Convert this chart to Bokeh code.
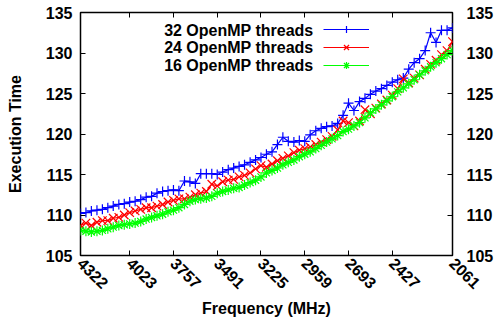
import math
from bokeh.plotting import figure
from bokeh.models import Range1d, LinearAxis, FixedTicker, Legend, LegendItem, Label
from bokeh.embed import file_html
from bokeh.resources import INLINE

# Frequencies (MHz), decreasing
freq = [4322, 4289, 4256, 4222, 4189, 4156, 4123, 4089, 4056, 4023,
        3990, 3956, 3923, 3890, 3857, 3823, 3790, 3757,
        3724, 3690, 3657, 3624, 3591, 3557, 3524, 3491,
        3458, 3424, 3391, 3358, 3325, 3291, 3258, 3225,
        3192, 3158, 3125, 3092, 3059, 3025, 2992, 2959,
        2926, 2892, 2859, 2826, 2793, 2759, 2726, 2693,
        2660, 2626, 2593, 2560, 2527, 2493, 2460, 2427,
        2394, 2360, 2327, 2294, 2261, 2227, 2194, 2161, 2128, 2094, 2061]

t32 = [110.2, 110.3, 110.5, 110.6, 110.7, 110.9, 111.1, 111.3, 111.4, 111.6,
       111.7, 111.9, 112.2, 112.3, 112.7, 112.9, 113.0, 113.1,
       113.0, 114.2, 114.1, 113.9, 115.1, 115.1, 115.1, 115.0,
       115.3, 115.6, 115.8, 116.0, 116.2, 116.5, 116.8, 117.1,
       117.5, 117.8, 118.7, 119.6, 119.1, 119.0, 119.2, 119.1,
       119.9, 120.4, 120.7, 120.9, 121.0, 121.3, 122.3, 123.8,
       122.9, 124.0, 124.4, 124.9, 125.3, 125.6, 126.0, 126.4,
       126.7, 126.9, 128.0, 128.8, 129.3, 130.3, 132.5, 131.3, 132.8, 132.8, 133.1]

t24 = [108.7, 109.0, 108.7, 109.1, 109.3, 109.3, 109.6, 109.7, 110.0, 110.3,
       110.5, 110.7, 110.9, 110.9, 111.1, 111.3, 111.6, 111.8,
       112.0, 112.0, 112.2, 112.5, 112.7, 112.9, 113.8, 113.6,
       114.1, 114.3, 114.4, 114.7, 114.9, 115.2, 115.7, 116.1,
       115.9, 116.3, 116.7, 117.0, 117.3, 117.7, 118.0, 118.2,
       118.4, 118.7, 119.0, 119.3, 119.7, 120.5, 121.6, 121.4,
       121.0, 121.6, 123.0, 122.5, 123.2, 123.7, 124.2, 124.8,
       125.6, 126.8, 126.3, 126.9, 127.3, 128.0, 128.6, 129.1, 129.8, 130.3, 131.4]

t16 = [108.1, 108.0, 107.9, 108.0, 108.1, 108.3, 108.5, 108.7, 108.8, 108.9,
       109.0, 109.2, 109.5, 109.7, 109.9, 110.1, 110.4, 110.6,
       110.9, 111.3, 111.7, 111.9, 112.0, 112.1, 112.3, 112.7,
       112.9, 113.1, 113.3, 113.4, 113.7, 114.0, 114.3, 114.7,
       115.2, 115.5, 115.8, 116.2, 116.5, 116.8, 117.2, 117.5,
       117.8, 118.2, 118.6, 119.0, 119.4, 119.8, 120.3, 120.6,
       121.0, 121.4, 122.0, 122.6, 123.1, 123.6, 124.1, 124.6,
       125.2, 125.7, 126.2, 126.7, 127.3, 127.8, 128.3, 128.8, 129.3, 129.8, 130.3]

x_ticks = [4322, 4023, 3757, 3491, 3225, 2959, 2693, 2427, 2061]
y_ticks = [105, 110, 115, 120, 125, 130, 135]
series_labels = ["32 OpenMP threads", "24 OpenMP threads", "16 OpenMP threads"]
colors = ["#0000ff", "#ff0000", "#00ff00"]
markers = ["cross", "x", "asterisk"]
msizes = [10, 12, 10]

FONT = "Liberation Sans"

p = figure(width=496, height=322, output_backend="svg", toolbar_location=None,
           x_range=Range1d(4322, 2061), y_range=Range1d(105, 135),
           min_border_left=80, min_border_right=42, min_border_top=12,
           min_border_bottom=67)

p.xgrid.visible = False
p.ygrid.visible = False
p.outline_line_color = "black"
p.outline_line_width = 1.5
p.outline_line_alpha = 1.0
p.background_fill_color = "white"
p.border_fill_color = "white"


def style(ax, ticks, show_labels=True):
    ax.ticker = FixedTicker(ticks=ticks)
    ax.major_tick_in = 5
    ax.major_tick_out = 0
    ax.minor_tick_in = 0
    ax.minor_tick_out = 0
    ax.major_tick_line_color = "black"
    ax.major_tick_line_width = 1
    ax.axis_line_color = None
    ax.major_label_text_font = FONT
    ax.major_label_text_font_style = "bold"
    ax.major_label_text_color = "black"
    if show_labels:
        ax.major_label_text_font_size = "16px"
    else:
        ax.major_label_text_font_size = "0px"
        ax.major_label_standoff = 0
    ax.axis_label_text_font = FONT
    ax.axis_label_text_font_style = "bold"
    ax.axis_label_text_font_size = "16px"
    ax.axis_label_text_color = "black"


xb = p.xaxis[0]
style(xb, x_ticks)
xb.major_label_orientation = -math.pi / 4
xb.major_label_standoff = 5
xb.axis_label = "Frequency (MHz)"
xb.axis_label_standoff = 3

yl = p.yaxis[0]
style(yl, y_ticks)
yl.major_label_standoff = 8
yl.axis_label = "Execution Time"
yl.axis_label_standoff = 19

yr = LinearAxis()
style(yr, y_ticks)
yr.major_label_standoff = 14
p.add_layout(yr, "right")

xt = LinearAxis()
style(xt, x_ticks, show_labels=False)
p.add_layout(xt, "above")

items = []
for vals, col, mk, ms in zip([t32, t24, t16], colors, markers, msizes):
    lr = p.line(freq, vals, line_color=col, line_width=1.2)
    sr = p.scatter(freq, vals, marker=mk, size=ms, line_color=col, line_width=1.2)
    items.append(LegendItem(label="", renderers=[lr, sr]))

# legend samples (gnuplot style: text on the left, sample on the right)
legend = Legend(items=items, location=(243, 181), glyph_width=46, glyph_height=18,
                label_height=18, label_width=0, spacing=0, padding=0, margin=0,
                label_standoff=0, label_text_font_size="0px",
                background_fill_alpha=0, border_line_alpha=0)
p.add_layout(legend, "center")

for k, lab in enumerate(series_labels):
    p.add_layout(Label(x=233, y=225.5 - 17.5 * k, x_units="screen", y_units="screen",
                       text=lab, text_align="right", text_baseline="middle",
                       text_font=FONT, text_font_style="bold",
                       text_font_size="16px", text_color="black"))

open("out.html", "w").write(file_html(p, INLINE))
